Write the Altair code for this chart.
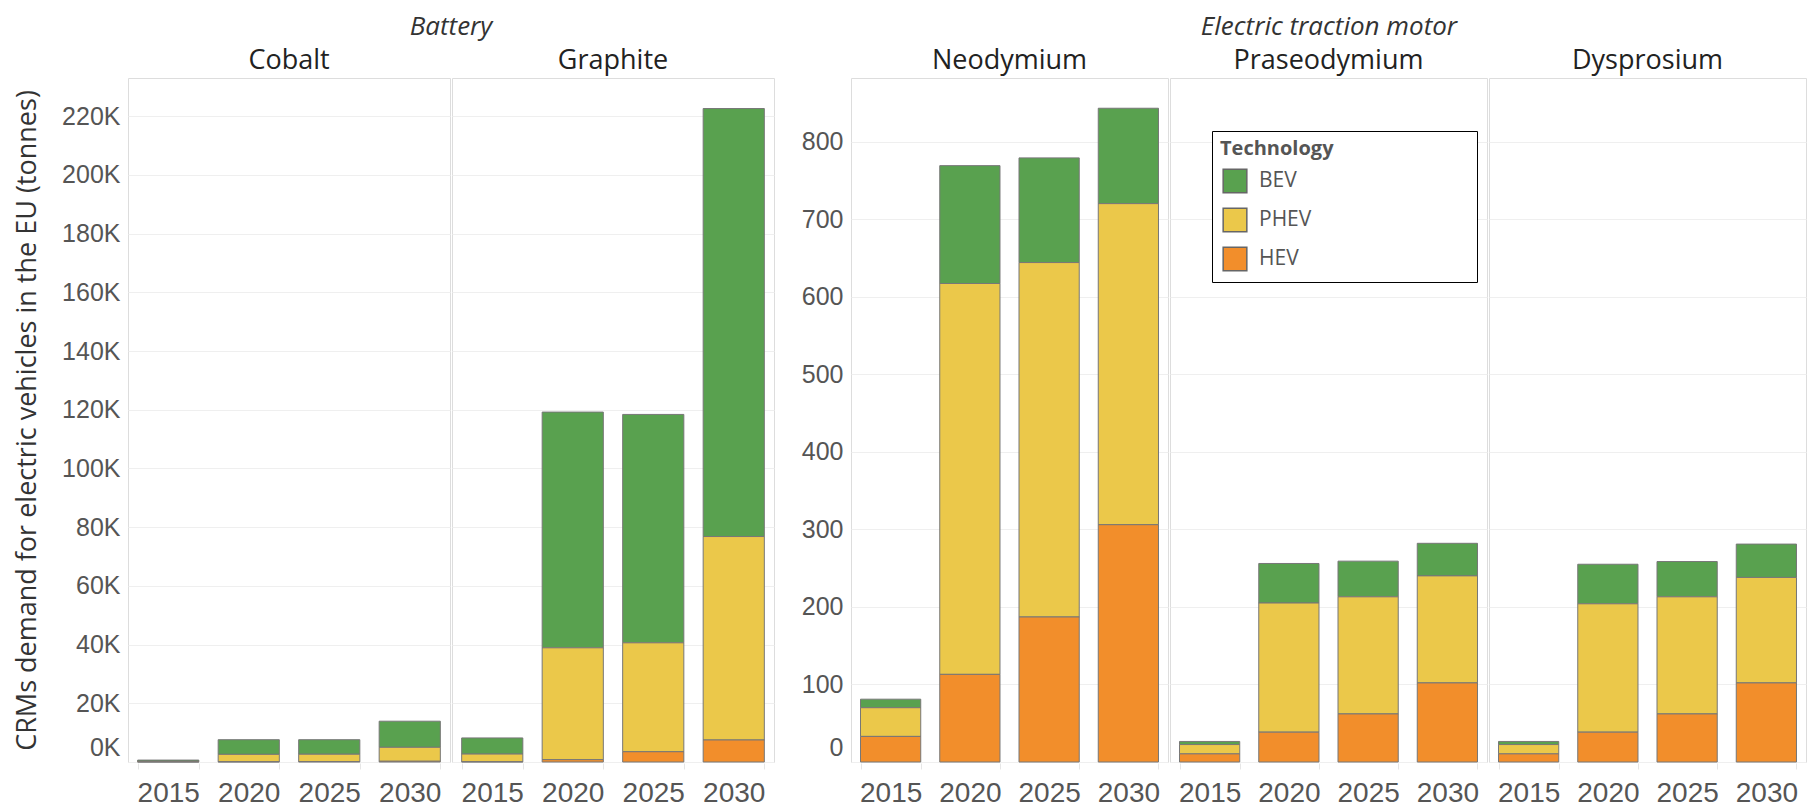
import altair as alt
import pandas as pd

years = ["2015", "2020", "2025", "2030"]
technologies = ["BEV", "PHEV", "HEV"]
tech_colors = ["#59a14f", "#ebc84a", "#f28e2b"]
stack_order = {"HEV": 0, "PHEV": 1, "BEV": 2}

battery_minerals = ["Cobalt", "Graphite"]
motor_minerals = ["Neodymium", "Praseodymium", "Dysprosium"]

# tonnes, per year 2015, 2020, 2025, 2030
cobalt_bev = [400, 5000, 4950, 8900]
cobalt_phev = [200, 2500, 2500, 4750]
cobalt_hev = [50, 100, 150, 250]

graphite_bev = [5500, 80300, 77800, 145800]
graphite_phev = [2600, 38100, 37100, 69300]
graphite_hev = [100, 800, 3500, 7500]

neodymium_bev = [11, 152, 135, 123]
neodymium_phev = [37, 504, 457, 414]
neodymium_hev = [33, 113, 187, 306]

praseodymium_bev = [4, 51, 46, 42]
praseodymium_phev = [12, 166.5, 151, 138]
praseodymium_hev = [10.5, 38.5, 62, 102]

dysprosium_bev = [4, 51, 45.5, 43]
dysprosium_phev = [12, 165.5, 151, 136]
dysprosium_hev = [10.5, 38.5, 62, 102]

series = {
    "Cobalt": (cobalt_bev, cobalt_phev, cobalt_hev),
    "Graphite": (graphite_bev, graphite_phev, graphite_hev),
    "Neodymium": (neodymium_bev, neodymium_phev, neodymium_hev),
    "Praseodymium": (praseodymium_bev, praseodymium_phev, praseodymium_hev),
    "Dysprosium": (dysprosium_bev, dysprosium_phev, dysprosium_hev),
}


def build(minerals):
    rows = []
    for m in minerals:
        for tech, vals in zip(technologies, series[m]):
            for y, v in zip(years, vals):
                rows.append({"Mineral": m, "Year": y, "Technology": tech,
                             "value": v, "ord": stack_order[tech]})
    return pd.DataFrame(rows)


battery_df = build(battery_minerals)
motor_df = build(motor_minerals)

label_font = "Liberation Sans"
head_font = "Open Sans"

legend = alt.Legend(
    title="Technology" + "\u2800" * 9,
    orient="none",
    legendX=1084,
    legendY=53,
    strokeColor="black",
    fillColor="white",
    padding=8,
    titleFont=head_font,
    titleFontSize=20,
    titleFontWeight="bold",
    titleColor="#555555",
    titlePadding=9,
    titleLimit=600,
    labelFont=head_font,
    labelFontSize=21,
    labelColor="#555555",
    labelOffset=11,
    symbolType="square",
    symbolSize=560,
    symbolStrokeColor="#666666",
    symbolStrokeWidth=1.5,
    symbolOffset=2,
    rowPadding=9,
)


def panel(df, minerals, group_title, dmax, ticks, label_expr, ytitle, width):
    y_axis_kwargs = dict(
        values=ticks,
        labelExpr=label_expr,
        labelFont=label_font,
        labelFontSize=25,
        labelColor="#555555",
        labelPadding=7,
        labelOffset={"condition": {"test": "datum.value === 0", "value": -15}, "value": 0},
        ticks=False,
        domain=False,
        grid=True,
        gridColor="#efefef",
        gridWidth=1.2,
        titleFont=head_font,
        titleFontSize=27,
        titleFontWeight="normal",
        titleColor="#333333",
        titlePadding=20,
    )
    if ytitle is not None:
        y_axis_kwargs["title"] = ytitle
    base = alt.Chart(df).mark_bar(stroke="#777777", strokeWidth=1).encode(
        x=alt.X(
            "Year:N",
            sort=years,
            title=None,
            scale=alt.Scale(paddingInner=0.24, paddingOuter=0.12),
            axis=alt.Axis(
                labelAngle=0,
                labelFont=label_font,
                labelFontSize=28,
                labelColor="#555555",
                labelPadding=10,
                ticks=True,
                tickBand="extent",
                tickColor="#e6e6e6",
                tickSize=6,
                domain=False,
                grid=False,
            ),
        ),
        y=alt.Y(
            "value:Q",
            stack="zero",
            title=ytitle,
            scale=alt.Scale(domain=[0, dmax], nice=False, zero=True),
            axis=alt.Axis(**y_axis_kwargs),
        ),
        color=alt.Color(
            "Technology:N",
            scale=alt.Scale(domain=technologies, range=tech_colors),
            legend=legend,
        ),
        order=alt.Order("ord:Q", sort="ascending"),
    ).properties(width=width, height=684)
    return base.facet(
        column=alt.Column(
            "Mineral:N",
            sort=minerals,
            header=alt.Header(
                title=group_title,
                titleFont=head_font,
                titleFontSize=26,
                titleFontStyle="italic",
                titleFontWeight="normal",
                titleColor="#333333",
                titlePadding=-3,
                labelFont=head_font,
                labelFontSize=27,
                labelColor="#222222",
                labelPadding=2,
            ),
        ),
        spacing=0,
    )


left = panel(
    battery_df, battery_minerals, "Battery", 233000,
    list(range(0, 220001, 20000)),
    "format(datum.value / 1000, 'd') + 'K'",
    "CRMs demand for electric vehicles in the EU (tonnes)",
    322,
)
right = panel(
    motor_df, motor_minerals, "Electric traction motor", 882,
    list(range(0, 801, 100)),
    "format(datum.value, 'd')",
    None,
    317,
)

chart = alt.hconcat(left, right, spacing=26).resolve_scale(
    y="independent", x="independent", color="shared"
).properties(
    padding={"left": 5, "top": 6, "right": 0, "bottom": 0}
).configure_view(
    stroke="#dadada", strokeWidth=1
).configure(background="white")

chart.save("out.html", embed_options={"renderer": "svg", "actions": False})
